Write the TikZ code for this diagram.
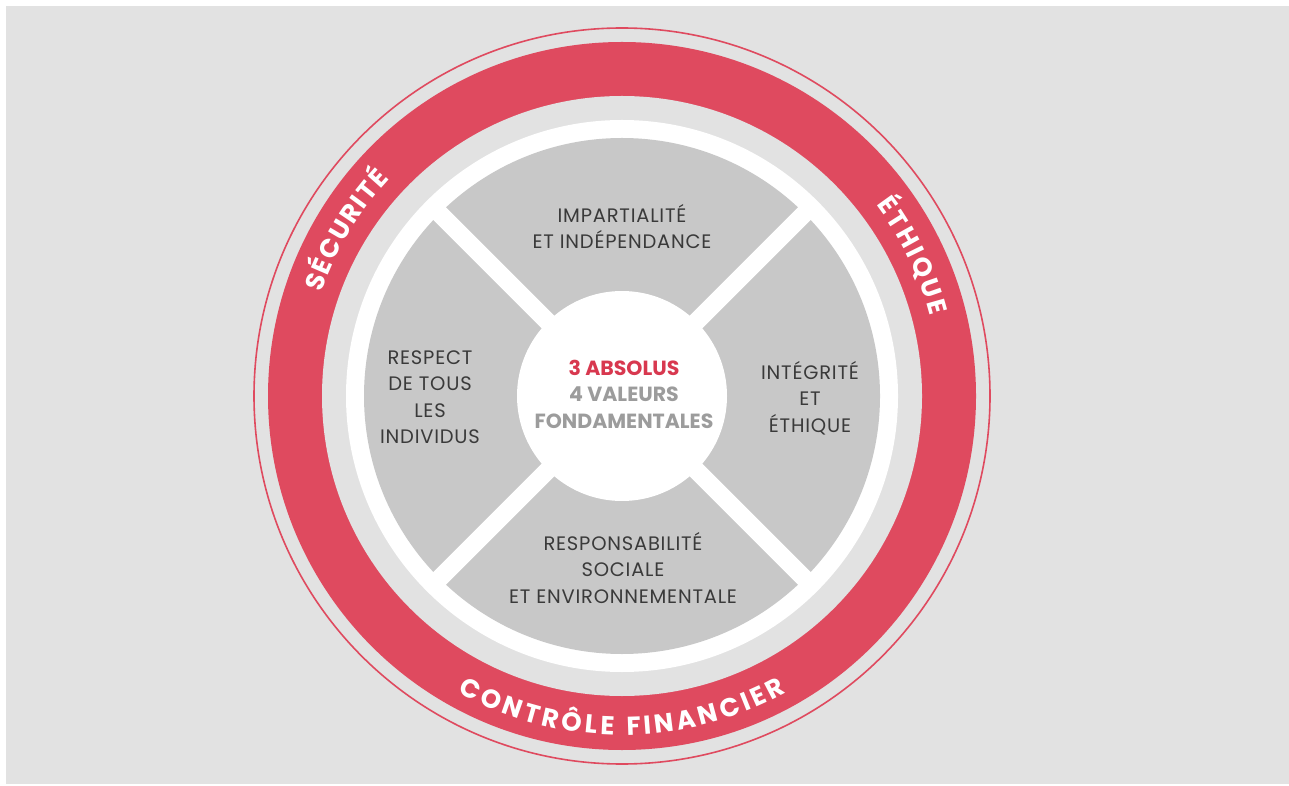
\documentclass[tikz,border=0pt]{standalone}
\usepackage{fontspec}
\setmainfont{Poppins}
\newfontfamily\quadfamily[LetterSpace=4]{Poppins}
\usetikzlibrary{decorations.text}
\definecolor{bgray}{HTML}{E2E2E2}
\definecolor{ringred}{HTML}{DF4A5F}
\definecolor{quadgray}{HTML}{C8C8C8}
\definecolor{txtdark}{HTML}{3A3A3A}
\definecolor{ctrgray}{HTML}{9C9C9C}
\definecolor{ctrred}{HTML}{D8384F}
\newcommand{\ringfont}{\fontsize{26}{26}\selectfont\bfseries\color{white}}
\tikzset{
  quadtext/.style={align=center, text=txtdark, font=\quadfamily\fontsize{19.5}{26.5}\selectfont, inner sep=0pt},
  ctrtext/.style={align=center, font=\fontsize{20.5}{26.5}\selectfont\bfseries, inner sep=0pt},
  ringlabel/.style={decorate, decoration={text along path, text align=fit to path, text={|\ringfont|#1}}}
}
\begin{document}
\begin{tikzpicture}[x=1pt,y=1pt]
\useasboundingbox (0,0) rectangle (1289,785);
\fill[white] (0,0) rectangle (1289,785);
\fill[bgray] (6,1) rectangle (1289,779);
\coordinate (c) at (622,389);
\begin{scope}[shift={(c)}]
  \draw[ringred, line width=1.6] (0,0) circle[radius=368];
  \fill[ringred] (0,0) circle[radius=354];
  \fill[bgray] (0,0) circle[radius=300];
  \fill[white] (0,0) circle[radius=276];
  \fill[quadgray] (0,0) circle[radius=258];
  \foreach \a in {45,135}
    \draw[white, line width=18] (\a:-262) -- (\a:262);
  \fill[white] (0,0) circle[radius=105];
  % ring labels
  \path[ringlabel={SÉCURITÉ}] (161:318) arc[start angle=161, end angle=137, radius=318];
  \path[ringlabel={ÉTHIQUE}] (37:318) arc[start angle=37, end angle=14.5, radius=318];
  \path[ringlabel={CONTRÔLE FINANCIER}] (241:339) arc[start angle=241, end angle=299, radius=339];
  % quadrant labels
  \node[quadtext] (top) at (0,169.5) {IMPARTIALITÉ\\ET INDÉPENDANCE};
  \node[quadtext] (left) at (-192,-1) {RESPECT\\DE TOUS\\LES\\INDIVIDUS};
  \node[quadtext] (right) at (188,-2) {INTÉGRITÉ\\ET\\ÉTHIQUE};
  \node[quadtext] (bottom) at (1,-172) {RESPONSABILITÉ\\SOCIALE\\ET ENVIRONNEMENTALE};
  \node[ctrtext] (center) at (2,2) {\textcolor{ctrred}{3 ABSOLUS}\\\textcolor{ctrgray}{4 VALEURS}\\\textcolor{ctrgray}{FONDAMENTALES}};
\end{scope}
\end{tikzpicture}
\end{document}
